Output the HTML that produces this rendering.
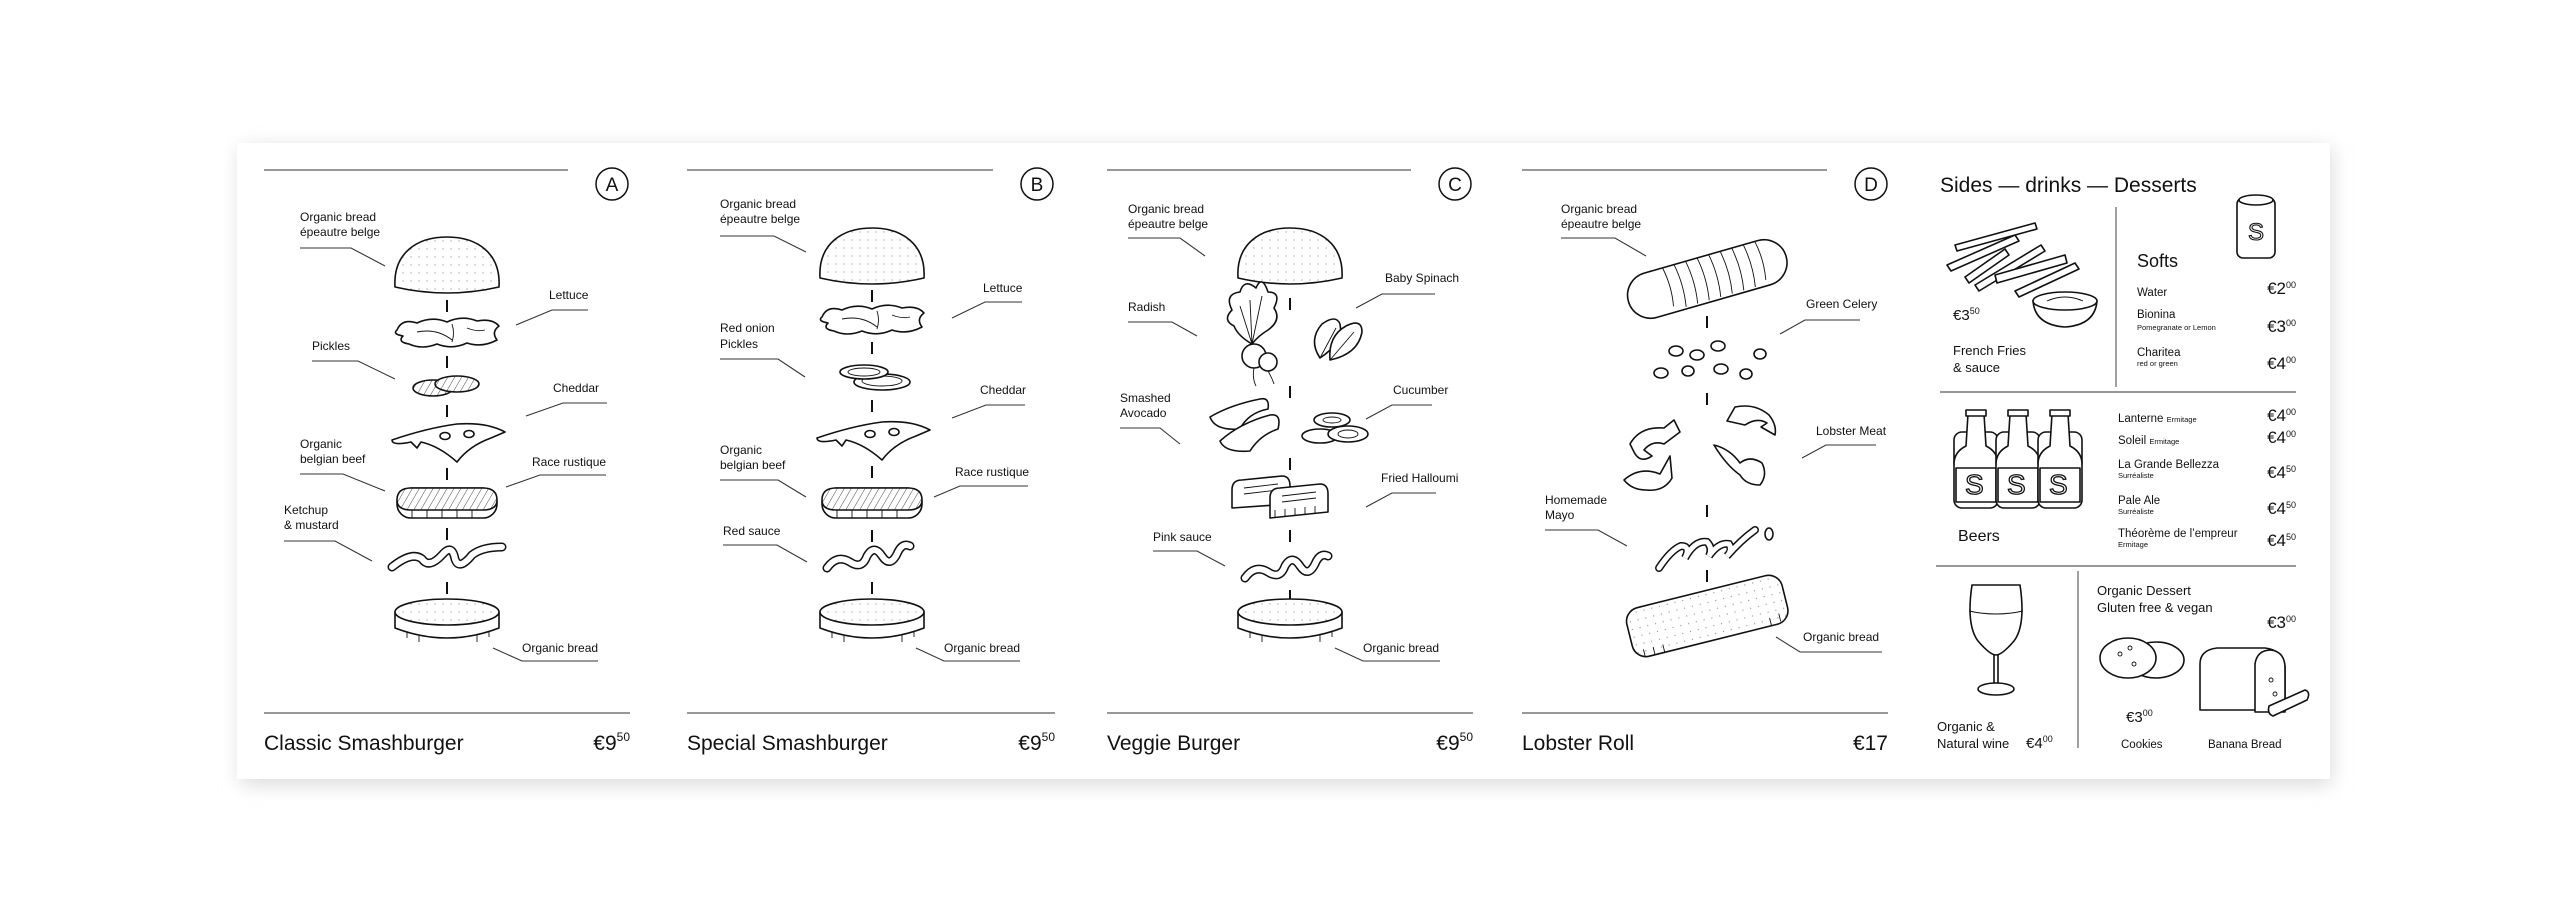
<!DOCTYPE html>
<html><head><meta charset="utf-8"><style>
html,body{margin:0;padding:0;background:#fff;width:2560px;height:921px;overflow:hidden}
svg{display:block}
text{font-family:"Liberation Sans",Arial,sans-serif;fill:#111}
.l{font-size:12px}
.t{font-size:21px}
.s{stroke:#111;stroke-width:1.6;fill:#fff;stroke-linejoin:round;stroke-linecap:round}
.ln{stroke:#333;stroke-width:1.1;fill:none}
.d{stroke:#111;stroke-width:2;fill:none}
.th{stroke:#111;stroke-width:0.9;fill:none}
.hr{stroke:#777;stroke-width:1.4}
</style></head><body>
<svg width="2560" height="921" viewBox="0 0 2560 921" xmlns="http://www.w3.org/2000/svg">
<defs>
<filter id="sh" x="-5%" y="-10%" width="110%" height="120%"><feGaussianBlur stdDeviation="10"/></filter>
<pattern id="dots" width="8" height="8" patternUnits="userSpaceOnUse"><rect width="8" height="8" fill="#fff"/><circle cx="4" cy="4" r="0.6" fill="#888"/></pattern>
<pattern id="hatch" width="6" height="6" patternUnits="userSpaceOnUse" patternTransform="rotate(30)"><rect width="6" height="6" fill="#fff"/><line x1="0" y1="0" x2="0" y2="6" stroke="#333" stroke-width="0.9"/></pattern>
<g id="bunTop"><path class="s" d="M-52,50 C-54,16 -30,0 0,0 C30,0 54,16 52,50 Q0,62 -52,50 Z" style="fill:url(#dots)"/></g>
<g id="lettuce"><path class="s" d="M-50,12 Q-45,0 -30,5 Q-15,-2 0,4 Q15,-3 30,3 Q45,0 52,8 Q44,14 50,22 Q35,30 20,25 Q5,32 -10,26 Q-25,32 -38,26 Q-50,24 -44,18 Q-55,16 -50,12Z"/><path class="th" d="M-30,14 Q-10,10 5,22 M5,6 Q8,15 5,24 M20,10 Q30,14 38,12"/></g>
<g id="bunBot"><path class="s" d="M-52,12 L-52,28 Q0,48 52,28 L52,12"/><ellipse class="s" cx="0" cy="12" rx="52" ry="13" style="fill:url(#dots)"/><path class="th" d="M-40,32 v6 M-28,35 v7 M30,35 v7 M42,31 v6"/></g>
<g id="patty"><rect class="s" x="-50" y="0" width="100" height="30" rx="14"/><path class="s" style="fill:url(#hatch)" d="M-50,12 Q-50,0 -36,0 L36,0 Q50,0 50,12 Q50,22 36,22 L-36,22 Q-50,22 -50,12Z"/><path class="th" d="M-35,22 v8 M-20,22 v8 M-5,22 v8 M10,22 v8 M25,22 v8"/></g>
<g id="cheese"><path class="s" d="M-55,10 Q-20,-2 10,-6 Q40,-8 58,2 L44,8 Q22,16 10,32 Q-8,16 -26,12 L-30,18 L-36,12 Q-55,16 -55,10Z"/><ellipse class="s" cx="-2" cy="6" rx="5" ry="3.5"/><ellipse class="s" cx="22" cy="4" rx="5" ry="3.5"/></g>
<g id="sauce"><path d="M-55,22 Q-35,6 -25,14 Q-18,24 -5,10 Q5,-2 8,14 Q12,26 25,10 Q35,2 55,2" stroke="#111" stroke-width="9" fill="none" stroke-linecap="round"/><path d="M-55,22 Q-35,6 -25,14 Q-18,24 -5,10 Q5,-2 8,14 Q12,26 25,10 Q35,2 55,2" stroke="#fff" stroke-width="6" fill="none" stroke-linecap="round"/></g>
<g id="sauce2"><path d="M-45,22 Q-35,8 -22,16 Q-10,24 -5,10 Q2,-2 10,10 Q18,22 25,8 Q30,-4 38,0" stroke="#111" stroke-width="9" fill="none" stroke-linecap="round"/><path d="M-45,22 Q-35,8 -22,16 Q-10,24 -5,10 Q2,-2 10,10 Q18,22 25,8 Q30,-4 38,0" stroke="#fff" stroke-width="6" fill="none" stroke-linecap="round"/></g>
<g id="dash"><line class="d" x1="0" y1="0" x2="0" y2="12"/></g>
<g id="sbot"><rect class="s" x="-22" y="0" width="44" height="76" rx="8"/><path class="s" d="M-22,32 Q-22,20 -10,14 L-8,-18 L8,-18 L10,14 Q22,20 22,32"/><rect class="s" x="-10" y="-22" width="20" height="6"/><rect class="s" x="-20" y="36" width="40" height="34"/><text x="-11" y="62" style="font-size:28px;fill:#fff;stroke:#111;stroke-width:1.3">S</text></g>
</defs>

<rect x="241" y="148" width="2090" height="636" fill="#d8d8d8" filter="url(#sh)"/>
<rect x="237" y="143" width="2093" height="636" fill="#fff"/>

<!-- ===== Panel A ===== -->
<g>
<line class="hr" x1="264" y1="170" x2="568" y2="170"/>
<circle cx="612" cy="184" r="16" fill="none" stroke="#111" stroke-width="1.5"/><text x="612" y="191" text-anchor="middle" style="font-size:19px">A</text>
<line class="hr" x1="264" y1="713" x2="630" y2="713"/>
<text class="t" x="264" y="750">Classic Smashburger</text>
<text class="t" x="630" y="750" text-anchor="end">€9<tspan dy="-9" style="font-size:12px">50</tspan></text>
<use href="#bunTop" x="447" y="237"/>
<use href="#dash" x="447" y="300"/>
<use href="#lettuce" x="447" y="318"/>
<use href="#dash" x="447" y="356"/>
<g transform="translate(447,378)"><ellipse class="s" cx="-14" cy="10" rx="20" ry="8" style="fill:url(#hatch)"/><ellipse class="s" cx="10" cy="6" rx="22" ry="8" style="fill:url(#hatch)"/></g>
<use href="#dash" x="447" y="405"/>
<use href="#cheese" x="447" y="430"/>
<use href="#dash" x="447" y="468"/>
<use href="#patty" x="447" y="488"/>
<use href="#dash" x="447" y="528"/>
<use href="#sauce" x="447" y="545"/>
<use href="#dash" x="447" y="582"/>
<use href="#bunBot" x="447" y="600"/>
<text class="l" x="300" y="221">Organic bread</text><text class="l" x="300" y="236">épeautre belge</text>
<path class="ln" d="M300,248 H351 L385,266"/>
<text class="l" x="549" y="299">Lettuce</text><path class="ln" d="M516,325 L552,310 H588"/>
<text class="l" x="312" y="350">Pickles</text><path class="ln" d="M312,361 H358 L395,379"/>
<text class="l" x="553" y="392">Cheddar</text><path class="ln" d="M526,416 L563,403 H607"/>
<text class="l" x="300" y="448">Organic</text><text class="l" x="300" y="463">belgian beef</text><path class="ln" d="M300,474 H343 L385,491"/>
<text class="l" x="532" y="466">Race rustique</text><path class="ln" d="M506,487 L540,475 H606"/>
<text class="l" x="284" y="514">Ketchup</text><text class="l" x="284" y="529">&amp; mustard</text><path class="ln" d="M284,541 H335 L372,561"/>
<text class="l" x="522" y="652">Organic bread</text><path class="ln" d="M493,648 L522,661 H598"/>
</g>

<!-- ===== Panel B ===== -->
<g>
<line class="hr" x1="687" y1="170" x2="993" y2="170"/>
<circle cx="1037" cy="184" r="16" fill="none" stroke="#111" stroke-width="1.5"/><text x="1037" y="191" text-anchor="middle" style="font-size:19px">B</text>
<line class="hr" x1="687" y1="713" x2="1055" y2="713"/>
<text class="t" x="687" y="750">Special Smashburger</text>
<text class="t" x="1055" y="750" text-anchor="end">€9<tspan dy="-9" style="font-size:12px">50</tspan></text>
<use href="#bunTop" x="872" y="228"/>
<use href="#dash" x="872" y="290"/>
<use href="#lettuce" x="872" y="305"/>
<use href="#dash" x="872" y="342"/>
<g transform="translate(872,368)"><ellipse class="s" cx="10" cy="14" rx="28" ry="8"/><ellipse class="th" cx="10" cy="13" rx="20" ry="5"/><ellipse class="s" cx="-8" cy="4" rx="24" ry="7"/><ellipse class="th" cx="-8" cy="4" rx="16" ry="4"/></g>
<use href="#dash" x="872" y="400"/>
<use href="#cheese" x="872" y="428"/>
<use href="#dash" x="872" y="466"/>
<use href="#patty" x="872" y="488"/>
<use href="#dash" x="872" y="530"/>
<use href="#sauce2" x="872" y="546"/>
<use href="#dash" x="872" y="582"/>
<use href="#bunBot" x="872" y="600"/>
<text class="l" x="720" y="208">Organic bread</text><text class="l" x="720" y="223">épeautre belge</text><path class="ln" d="M720,236 H774 L806,252"/>
<text class="l" x="983" y="292">Lettuce</text><path class="ln" d="M952,318 L985,302 H1022"/>
<text class="l" x="720" y="332">Red onion</text><text class="l" x="720" y="348">Pickles</text><path class="ln" d="M720,359 H778 L805,377"/>
<text class="l" x="980" y="394">Cheddar</text><path class="ln" d="M952,418 L986,405 H1025"/>
<text class="l" x="720" y="454">Organic</text><text class="l" x="720" y="469">belgian beef</text><path class="ln" d="M720,480 H778 L806,497"/>
<text class="l" x="955" y="476">Race rustique</text><path class="ln" d="M934,497 L960,486 H1028"/>
<text class="l" x="723" y="535">Red sauce</text><path class="ln" d="M723,545 H777 L807,562"/>
<text class="l" x="944" y="652">Organic bread</text><path class="ln" d="M916,648 L944,661 H1020"/>
</g>

<!-- ===== Panel C ===== -->
<g>
<line class="hr" x1="1107" y1="170" x2="1411" y2="170"/>
<circle cx="1455" cy="184" r="16" fill="none" stroke="#111" stroke-width="1.5"/><text x="1455" y="191" text-anchor="middle" style="font-size:19px">C</text>
<line class="hr" x1="1107" y1="713" x2="1473" y2="713"/>
<text class="t" x="1107" y="750">Veggie Burger</text>
<text class="t" x="1473" y="750" text-anchor="end">€9<tspan dy="-9" style="font-size:12px">50</tspan></text>
<use href="#bunTop" x="1290" y="228"/>
<use href="#dash" x="1290" y="298"/>
<g transform="translate(1252,300)"><path class="s" d="M-20,10 Q-28,-6 -12,-8 Q-8,-22 4,-12 Q10,-26 16,-8 Q30,-8 22,8 Q30,20 16,30 Q6,36 0,44 Q-14,36 -18,26 Q-30,20 -20,10Z"/><path class="th" d="M0,44 L-2,0 M0,44 L10,-4 M0,44 L-12,6"/><circle class="s" cx="2" cy="56" r="12"/><circle class="s" cx="16" cy="62" r="9"/><path class="th" d="M2,68 Q0,78 4,86 M16,71 Q20,78 22,84"/></g>
<g transform="translate(1330,320)"><path class="s" d="M-10,38 Q-22,20 -8,4 Q6,-6 10,4 Q14,22 -10,38Z"/><path class="s" d="M0,40 Q-2,16 16,6 Q32,-2 32,12 Q28,34 0,40Z"/><path class="th" d="M0,40 L24,12 M-10,38 L6,8"/></g>
<use href="#dash" x="1290" y="386"/>
<g transform="translate(1250,405)"><path class="s" d="M-40,12 Q-20,0 10,-6 Q20,-8 18,4 Q-2,8 -10,24 Q-35,26 -40,12Z"/><path class="s" d="M-30,36 Q-10,18 20,10 Q32,8 28,24 Q10,30 0,46 Q-25,48 -30,36Z"/></g>
<g transform="translate(1338,420)"><ellipse class="s" cx="-6" cy="0" rx="18" ry="7"/><ellipse class="s" cx="-18" cy="16" rx="18" ry="7"/><ellipse class="s" cx="10" cy="14" rx="20" ry="8"/><ellipse class="th" cx="10" cy="14" rx="10" ry="4"/><ellipse class="th" cx="-6" cy="0" rx="9" ry="3"/></g>
<use href="#dash" x="1290" y="458"/>
<g transform="translate(1270,480)"><path class="s" d="M-38,10 Q-38,0 -28,0 L12,-4 Q20,-4 20,6 L20,24 L-38,28Z"/><path class="th" d="M-26,8 L8,4 M-26,14 L8,10"/><path class="s" d="M0,18 Q0,8 10,8 L50,4 Q58,4 58,14 L58,32 L0,38Z"/><path class="th" d="M12,16 L46,12 M12,22 L46,18 M5,38 v-8 M15,37 v-8 M25,36 v-8 M35,35 v-8 M45,34 v-8"/></g>
<use href="#dash" x="1290" y="530"/>
<use href="#sauce2" x="1290" y="556"/>
<use href="#dash" x="1290" y="590"/>
<use href="#bunBot" x="1290" y="600"/>
<text class="l" x="1128" y="213">Organic bread</text><text class="l" x="1128" y="228">épeautre belge</text><path class="ln" d="M1128,238 H1180 L1205,256"/>
<text class="l" x="1385" y="282">Baby Spinach</text><path class="ln" d="M1356,308 L1382,294 H1435"/>
<text class="l" x="1128" y="311">Radish</text><path class="ln" d="M1128,322 H1172 L1197,336"/>
<text class="l" x="1120" y="402">Smashed</text><text class="l" x="1120" y="417">Avocado</text><path class="ln" d="M1120,428 H1160 L1180,444"/>
<text class="l" x="1393" y="394">Cucumber</text><path class="ln" d="M1366,419 L1392,405 H1432"/>
<text class="l" x="1381" y="482">Fried Halloumi</text><path class="ln" d="M1366,507 L1392,493 H1436"/>
<text class="l" x="1153" y="541">Pink sauce</text><path class="ln" d="M1153,551 H1197 L1225,566"/>
<text class="l" x="1363" y="652">Organic bread</text><path class="ln" d="M1335,648 L1363,661 H1440"/>
</g>

<!-- ===== Panel D ===== -->
<g>
<line class="hr" x1="1522" y1="170" x2="1827" y2="170"/>
<circle cx="1871" cy="184" r="16" fill="none" stroke="#111" stroke-width="1.5"/><text x="1871" y="191" text-anchor="middle" style="font-size:19px">D</text>
<line class="hr" x1="1522" y1="713" x2="1888" y2="713"/>
<text class="t" x="1522" y="750">Lobster Roll</text>
<text class="t" x="1888" y="750" text-anchor="end">€17</text>
<g transform="translate(1707,278) rotate(-16)"><rect class="s" x="-82" y="-22" width="164" height="46" rx="23"/><path class="th" d="M-40,-22 q4,20 0,40 M-28,-22 q4,22 0,44 M-16,-22 q4,22 0,44 M-4,-22 q4,22 0,44 M8,-22 q4,22 0,44 M20,-22 q4,22 0,44 M32,-22 q4,22 0,44 M44,-22 q4,22 0,44 M56,-22 q4,20 0,40"/></g>
<use href="#dash" x="1707" y="316"/>
<ellipse class="s" cx="1676" cy="351" rx="7" ry="5"/><ellipse class="s" cx="1697" cy="355" rx="7" ry="5"/><ellipse class="s" cx="1718" cy="346" rx="7" ry="5"/><ellipse class="s" cx="1760" cy="354" rx="6" ry="5"/>
<ellipse class="s" cx="1661" cy="373" rx="7" ry="5"/><ellipse class="s" cx="1688" cy="371" rx="6" ry="5"/><ellipse class="s" cx="1721" cy="369" rx="7" ry="5"/><ellipse class="s" cx="1746" cy="374" rx="6" ry="5"/>
<use href="#dash" x="1707" y="393"/>
<g transform="translate(1660,440)"><path class="s" d="M-30,4 Q-20,-14 4,-12 L14,-20 L20,-8 L4,4 Q-8,0 -16,10 L-8,16 Q-20,24 -26,12Z"/></g>
<g transform="translate(1755,425)"><path class="s" d="M-28,-4 L-20,-18 Q0,-22 14,-10 Q22,0 20,10 L6,2 L12,-2 Q2,-8 -10,0Z"/></g>
<g transform="translate(1750,465)"><path class="s" d="M-36,-20 Q-20,-16 -10,-2 Q0,-10 12,-2 Q18,10 10,20 Q-4,20 -10,10 Q-24,0 -36,-20Z"/></g>
<g transform="translate(1650,478)"><path class="s" d="M-26,2 Q-10,-12 10,-4 L20,-22 L22,0 Q14,14 -4,12 Q-18,12 -26,2Z"/></g>
<use href="#dash" x="1707" y="505"/>
<g transform="translate(1707,540)"><path d="M-48,28 Q-36,10 -26,6 Q-16,6 -22,18 Q-12,0 0,2 Q6,8 2,16 Q12,2 22,4 Q26,10 20,16 Q34,0 48,-10" stroke="#111" stroke-width="8" fill="none" stroke-linecap="round"/><path d="M-48,28 Q-36,10 -26,6 Q-16,6 -22,18 Q-12,0 0,2 Q6,8 2,16 Q12,2 22,4 Q26,10 20,16 Q34,0 48,-10" stroke="#fff" stroke-width="5" fill="none" stroke-linecap="round"/><ellipse class="s" cx="62" cy="-6" rx="4" ry="6"/></g>
<use href="#dash" x="1707" y="570"/>
<g transform="translate(1707,615) rotate(-14)"><rect class="s" x="-80" y="-24" width="160" height="50" rx="14" style="fill:url(#dots)"/><path class="th" d="M-70,18 v8 M-60,18 v8 M-50,18 v8 M60,18 v8 M70,16 v8"/></g>
<text class="l" x="1561" y="213">Organic bread</text><text class="l" x="1561" y="228">épeautre belge</text><path class="ln" d="M1561,238 H1615 L1646,256"/>
<text class="l" x="1806" y="308">Green Celery</text><path class="ln" d="M1780,334 L1805,320 H1860"/>
<text class="l" x="1816" y="435">Lobster Meat</text><path class="ln" d="M1802,458 L1826,445 H1876"/>
<text class="l" x="1545" y="504">Homemade</text><text class="l" x="1545" y="519">Mayo</text><path class="ln" d="M1545,530 H1598 L1627,546"/>
<text class="l" x="1803" y="641">Organic bread</text><path class="ln" d="M1776,637 L1800,652 H1882"/>
</g>

<!-- ===== Sides ===== -->
<g>
<text x="1940" y="192" style="font-size:21px">Sides — drinks — Desserts</text>
<line class="hr" x1="2116" y1="207" x2="2116" y2="387"/>
<line class="hr" x1="1940" y1="392" x2="2296" y2="392"/>
<line class="hr" x1="1936" y1="566" x2="2296" y2="566"/>
<line class="hr" x1="2078" y1="571" x2="2078" y2="748"/>
<g transform="translate(1945,215)">
<path class="s" d="M2,50 L70,20 L74,26 L6,56Z"/><path class="s" d="M10,30 L90,8 L92,14 L12,36Z"/><path class="s" d="M30,70 L96,30 L100,36 L34,76Z"/><path class="s" d="M50,60 L120,40 L122,48 L52,68Z"/><path class="s" d="M20,62 L60,34 L64,40 L24,68Z"/><path class="s" d="M70,76 L130,48 L134,54 L74,82Z"/>
</g>
<g transform="translate(2065,305)"><path class="s" d="M-32,-4 Q-30,20 0,22 Q30,20 32,-4Z"/><ellipse class="s" cx="0" cy="-4" rx="32" ry="9"/><path class="th" d="M-18,-4 Q0,-12 18,-4"/></g>
<text x="1953" y="320" style="font-size:15px">€3<tspan dy="-6" style="font-size:9px">50</tspan></text>
<text x="1953" y="355" style="font-size:13px">French Fries</text><text x="1953" y="372" style="font-size:13px">&amp; sauce</text>
<g transform="translate(2256,226)"><rect class="s" x="-19" y="-28" width="38" height="60" rx="6"/><ellipse class="s" cx="0" cy="-26" rx="17" ry="5"/><text x="-8" y="14" style="font-size:24px;fill:#fff;stroke:#111;stroke-width:1.1">S</text></g>
<text x="2137" y="267" style="font-size:18px">Softs</text>
<text x="2137" y="296" style="font-size:11.5px">Water</text><text x="2296" y="294" text-anchor="end" style="font-size:17px">€2<tspan dy="-6" style="font-size:9px">00</tspan></text>
<text x="2137" y="318" style="font-size:11.5px">Bionina</text><text x="2137" y="330" style="font-size:7.5px">Pomegranate or Lemon</text><text x="2296" y="332" text-anchor="end" style="font-size:17px">€3<tspan dy="-6" style="font-size:9px">00</tspan></text>
<text x="2137" y="356" style="font-size:11.5px">Charitea</text><text x="2137" y="366" style="font-size:7.5px">red or green</text><text x="2296" y="369" text-anchor="end" style="font-size:17px">€4<tspan dy="-6" style="font-size:9px">00</tspan></text>
<use href="#sbot" x="1976" y="432"/><use href="#sbot" x="2018" y="432"/><use href="#sbot" x="2060" y="432"/>
<text x="1958" y="541" style="font-size:16px">Beers</text>
<text x="2118" y="422" style="font-size:11.5px">Lanterne <tspan style="font-size:7.5px">Ermitage</tspan></text><text x="2296" y="421" text-anchor="end" style="font-size:17px">€4<tspan dy="-6" style="font-size:9px">00</tspan></text>
<text x="2118" y="444" style="font-size:11.5px">Soleil <tspan style="font-size:7.5px">Ermitage</tspan></text><text x="2296" y="443" text-anchor="end" style="font-size:17px">€4<tspan dy="-6" style="font-size:9px">00</tspan></text>
<text x="2118" y="468" style="font-size:11.5px">La Grande Bellezza</text><text x="2118" y="478" style="font-size:7.5px">Surréaliste</text><text x="2296" y="478" text-anchor="end" style="font-size:17px">€4<tspan dy="-6" style="font-size:9px">50</tspan></text>
<text x="2118" y="504" style="font-size:11.5px">Pale Ale</text><text x="2118" y="514" style="font-size:7.5px">Surréaliste</text><text x="2296" y="514" text-anchor="end" style="font-size:17px">€4<tspan dy="-6" style="font-size:9px">50</tspan></text>
<text x="2118" y="537" style="font-size:11.5px">Théorème de l’empreur</text><text x="2118" y="547" style="font-size:7.5px">Ermitage</text><text x="2296" y="546" text-anchor="end" style="font-size:17px">€4<tspan dy="-6" style="font-size:9px">50</tspan></text>
<g transform="translate(1996,585)"><path class="s" d="M-24,0 Q-30,40 -18,56 Q-6,70 0,70 Q6,70 18,56 Q30,40 24,0Z"/><path class="th" d="M-27,26 Q0,32 27,26"/><path class="s" d="M-2,70 L-2,100 M2,70 L2,100"/><ellipse class="s" cx="0" cy="104" rx="18" ry="6"/></g>
<text x="1937" y="731" style="font-size:13px">Organic &amp;</text><text x="1937" y="748" style="font-size:13px">Natural wine</text>
<text x="2026" y="748" style="font-size:15px">€4<tspan dy="-6" style="font-size:9px">00</tspan></text>
<text x="2097" y="595" style="font-size:13px">Organic Dessert</text><text x="2097" y="612" style="font-size:13px">Gluten free &amp; vegan</text>
<text x="2296" y="628" text-anchor="end" style="font-size:17px">€3<tspan dy="-6" style="font-size:9px">00</tspan></text>
<g transform="translate(2140,660)"><ellipse class="s" cx="16" cy="0" rx="28" ry="18"/><ellipse class="s" cx="-12" cy="-2" rx="28" ry="20"/><circle cx="-20" cy="-6" r="2" class="th"/><circle cx="-6" cy="4" r="2" class="th"/><circle cx="-10" cy="-12" r="2" class="th"/></g>
<g transform="translate(2245,680)"><path class="s" d="M-45,-16 Q-45,-30 -28,-32 L20,-32 Q38,-30 40,-14 L40,30 L-45,30Z"/><path class="s" d="M10,-16 Q12,-30 26,-30 Q40,-28 40,-12 L40,32 L10,32Z"/><path class="s" d="M24,26 L60,10 Q66,12 62,20 L28,36 Q22,34 24,26Z"/><circle cx="26" cy="0" r="2" class="th"/><circle cx="30" cy="14" r="2" class="th"/></g>
<text x="2126" y="722" style="font-size:15px">€3<tspan dy="-6" style="font-size:9px">00</tspan></text>
<text x="2121" y="748" style="font-size:11.5px">Cookies</text>
<text x="2208" y="748" style="font-size:11.5px">Banana Bread</text>
</g>
</svg>
</body></html>
